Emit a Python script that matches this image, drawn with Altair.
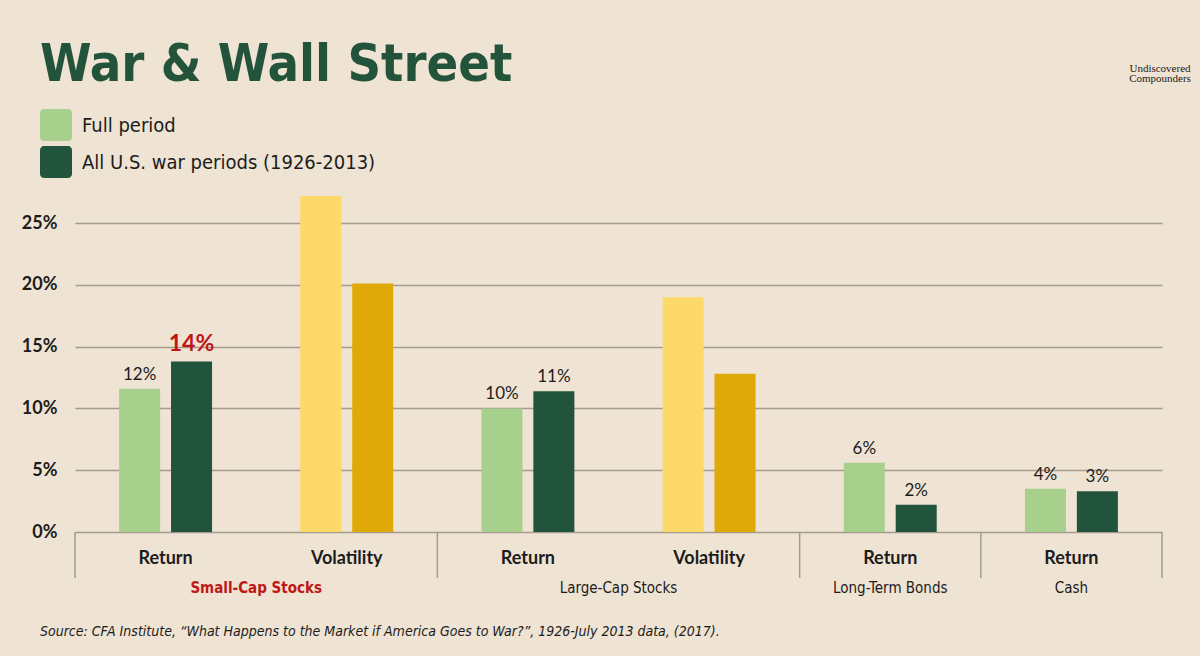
import altair as alt
import pandas as pd

# ---- data -------------------------------------------------------------
groups = ["Small-Cap Stocks", "Small-Cap Stocks", "Large-Cap Stocks",
          "Large-Cap Stocks", "Long-Term Bonds", "Cash"]
metrics = ["Return", "Volatility", "Return", "Volatility", "Return", "Return"]
full_period = [0.116, 0.272, 0.100, 0.190, 0.056, 0.035]
war_periods = [0.138, 0.201, 0.114, 0.128, 0.022, 0.033]
series_names = ["Full period", "All U.S. war periods (1926-2013)"]
highlight_group = "Small-Cap Stocks"
y_ticks = [0, 0.05, 0.10, 0.15, 0.20, 0.25]

# ---- styling ----------------------------------------------------------
BG = "#efe3d3"
GRID = "#a39b90"
TEXT = "#1c1c1c"
RED = "#bf1717"
TITLE_GREEN = "#23533b"
color_keys = ["Return|0", "Return|1", "Volatility|0", "Volatility|1"]
color_range = ["#a8d08d", "#22533c", "#fcd968", "#dfaa08"]
legend_colors = ["#a8d08d", "#22533c"]
NARROW = "DejaVu Sans Condensed, sans-serif"
SANS = "Lato, Roboto, sans-serif"

W, H = 1087, 346

# ---- tables built from the arrays ------------------------------------
slot_order = [f"{i}|{m}" for i, m in enumerate(metrics)]
rows = []
for i, (g, m) in enumerate(zip(groups, metrics)):
    for s, vals in enumerate([full_period, war_periods]):
        rows.append({
            "slot": slot_order[i], "group": g, "metric": m,
            "series": series_names[s], "value": vals[i],
            "key": f"{m}|{s}",
            "hl": (g == highlight_group and s == 1),
        })
df = pd.DataFrame(rows)

# group extents in slot units (for separators and group captions)
grp_rows, edges, start = [], [0], 0
for g in dict.fromkeys(groups):
    n = groups.count(g)
    grp_rows.append({"group": g, "center": start + n / 2, "hl": g == highlight_group})
    start += n
    edges.append(start)
grp_df = pd.DataFrame(grp_rows)
edge_df = pd.DataFrame({"edge": edges})

# ---- encodings --------------------------------------------------------
def x_band(axis):
    return alt.X("slot:N", sort=slot_order,
                 scale=alt.Scale(domain=slot_order, paddingInner=0, paddingOuter=0),
                 axis=axis)

x_off = alt.XOffset("series:N", sort=series_names,
                    scale=alt.Scale(domain=series_names,
                                    paddingInner=0.21, paddingOuter=0.85))
y_scale = alt.Scale(domain=[0, 0.28], nice=False)
y_enc = alt.Y("value:Q", scale=y_scale,
              axis=alt.Axis(values=y_ticks, format=".0%", title=None,
                            grid=True, gridColor=GRID, gridWidth=1.5,
                            domain=False, ticks=False, labelPadding=18,
                            labelFont=SANS, labelFontWeight="bold",
                            labelFontSize=18, labelColor=TEXT))

bars = alt.Chart(df).mark_bar().encode(
    x=x_band(alt.Axis(title=None, labelExpr="split(datum.label, '|')[1]",
                      labelAngle=0, ticks=False, domain=False,
                      labelPadding=17, labelFont=SANS, labelFontWeight="bold",
                      labelFontSize=18, labelColor=TEXT)),
    xOffset=x_off,
    y=y_enc,
    color=alt.Color("key:N", scale=alt.Scale(domain=color_keys, range=color_range),
                    legend=None),
)

returns = df[df["metric"] == "Return"]

labels = alt.Chart(returns[~returns["hl"]]).mark_text(
    font=SANS, fontSize=17, color=TEXT, baseline="alphabetic", dy=-9
).encode(x=x_band(None), xOffset=x_off, y=y_enc,
         text=alt.Text("value:Q", format=".0%"))

labels_hl = alt.Chart(returns[returns["hl"]]).mark_text(
    font=SANS, fontSize=23, fontWeight="bold", color=RED,
    baseline="alphabetic", dy=-10
).encode(x=x_band(None), xOffset=x_off, y=y_enc,
         text=alt.Text("value:Q", format=".0%"))

# ---- group separators and captions (slot-unit scale) ------------------
x_slots = alt.Scale(domain=[0, len(groups)], nice=False, zero=True)

separators = alt.Chart(edge_df).mark_rule(color=GRID, strokeWidth=1.5).encode(
    x=alt.X("edge:Q", scale=x_slots, axis=None),
    y=alt.value(H), y2=alt.value(H + 46),
)

captions = alt.Chart(grp_df[~grp_df["hl"]]).mark_text(
    font=NARROW, fontSize=15, color=TEXT, baseline="middle"
).encode(x=alt.X("center:Q", scale=x_slots, axis=None),
         y=alt.value(H + 56), text="group:N")

captions_hl = alt.Chart(grp_df[grp_df["hl"]]).mark_text(
    font=NARROW, fontSize=15, fontWeight="bold", color=RED, baseline="middle"
).encode(x=alt.X("center:Q", scale=x_slots, axis=None),
         y=alt.value(H + 56), text="group:N")

# ---- title, legend, logo, source --------------------------------------
one = pd.DataFrame({"k": [0]})

title = alt.Chart(one).mark_text(
    font="DejaVu Sans Condensed", fontWeight="bold",
    fontSize=52, color=TITLE_GREEN, align="left", baseline="alphabetic"
).encode(x=alt.value(-35), y=alt.value(-105), text=alt.value("War & Wall Street"))

legend_layers = []
for i, (name, col) in enumerate(zip(series_names, legend_colors)):
    top = -77 + i * 37
    legend_layers.append(alt.Chart(one).mark_rect(color=col, cornerRadius=4).encode(
        x=alt.value(-35), x2=alt.value(-3), y=alt.value(top), y2=alt.value(top + 32)))
    legend_layers.append(alt.Chart(one).mark_text(
        font=NARROW, fontSize=20, color=TEXT, align="left", baseline="middle"
    ).encode(x=alt.value(7), y=alt.value(top + 17), text=alt.value(name)))

logo_lines = ["Undiscovered", "Compounders"]
logo = [alt.Chart(one).mark_text(
    font="Liberation Serif, DejaVu Serif, serif", fontSize=11, color=TEXT,
    align="center", baseline="middle"
).encode(x=alt.value(1085), y=alt.value(-117 + 10 * j), text=alt.value(t))
    for j, t in enumerate(logo_lines)]

source = alt.Chart(one).mark_text(
    font=NARROW, fontSize=14, fontStyle="italic", color=TEXT,
    align="left", baseline="middle"
).encode(x=alt.value(-35), y=alt.value(446),
         text=alt.value("Source: CFA Institute, \u201cWhat Happens to the Market if "
                        "America Goes to War?\u201d, 1926-July 2013 data, (2017)."))

chart = alt.layer(
    bars, labels, labels_hl, separators, captions, captions_hl,
    title, *legend_layers, *logo, source
).resolve_scale(x="independent").properties(
    width=W, height=H,
    padding={"left": 75, "top": 186, "right": 38, "bottom": 124},
    autosize=alt.AutoSizeParams(type="none"),
).configure(background=BG).configure_view(stroke=None)

chart.save("out.html", embed_options={"renderer": "svg", "actions": False})
